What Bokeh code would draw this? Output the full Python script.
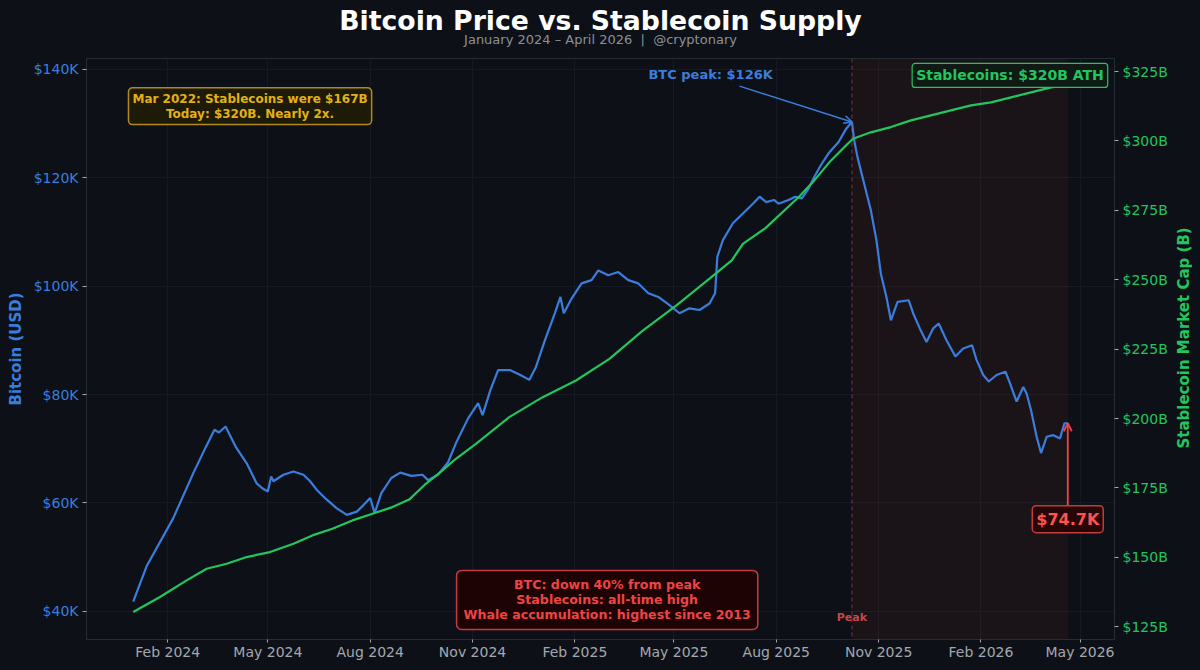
import math
import pandas as pd
from bokeh.plotting import figure
from bokeh.layouts import column, row
from bokeh.core.properties import value
from bokeh.models import (Range1d, LinearAxis, FixedTicker, DatetimeTickFormatter,
                          PrintfTickFormatter, Label, Arrow, OpenHead, BoxAnnotation, Span)
from bokeh.embed import file_html
from bokeh.resources import INLINE

# ---------------- data ----------------
btc_dates = [
    "2024-01-01", "2024-01-13", "2024-02-06", "2024-02-24", "2024-03-06", "2024-03-14",
    "2024-03-18", "2024-03-24", "2024-04-02", "2024-04-12", "2024-04-21", "2024-04-26",
    "2024-05-01", "2024-05-04", "2024-05-06", "2024-05-15", "2024-05-24", "2024-06-02",
    "2024-06-08", "2024-06-14", "2024-06-23", "2024-07-02", "2024-07-11", "2024-07-20",
    "2024-07-26", "2024-08-01", "2024-08-05", "2024-08-11", "2024-08-20", "2024-08-28",
    "2024-09-07", "2024-09-17", "2024-09-22", "2024-10-01", "2024-10-10", "2024-10-17",
    "2024-10-28", "2024-11-06", "2024-11-10", "2024-11-17", "2024-11-24", "2024-12-05",
    "2024-12-14", "2024-12-22", "2024-12-28", "2025-01-05", "2025-01-14", "2025-01-19",
    "2025-01-22", "2025-01-29", "2025-02-07", "2025-02-16", "2025-02-22", "2025-03-03",
    "2025-03-12", "2025-03-21", "2025-03-30", "2025-04-08", "2025-04-17", "2025-04-27",
    "2025-05-06", "2025-05-15", "2025-05-24", "2025-06-02", "2025-06-07", "2025-06-09",
    "2025-06-14", "2025-06-23", "2025-07-02", "2025-07-11", "2025-07-17", "2025-07-23",
    "2025-07-30", "2025-08-03", "2025-08-12", "2025-08-18", "2025-08-24", "2025-08-30",
    "2025-09-04", "2025-09-10", "2025-09-17", "2025-09-26", "2025-10-03", "2025-10-08",
    "2025-10-10", "2025-10-13", "2025-10-19", "2025-10-25", "2025-10-30", "2025-11-03",
    "2025-11-08", "2025-11-12", "2025-11-18", "2025-11-28", "2025-12-02", "2025-12-08",
    "2025-12-14", "2025-12-20", "2025-12-25", "2026-01-01", "2026-01-09", "2026-01-16",
    "2026-01-24", "2026-01-28", "2026-02-03", "2026-02-08", "2026-02-15", "2026-02-23",
    "2026-02-27", "2026-03-05", "2026-03-11", "2026-03-14", "2026-03-18", "2026-03-23",
    "2026-03-27", "2026-04-01", "2026-04-07", "2026-04-13", "2026-04-17", "2026-04-20",
]
btc_values = [  # thousands of USD
    41.8, 48.3, 57.2, 65.5, 70.2, 73.5,
    73.0, 74.1, 70.4, 67.3, 63.6, 62.7,
    62.1, 64.9, 64.0, 65.2, 65.8, 65.2,
    64.0, 62.4, 60.6, 59.0, 57.8, 58.4,
    59.6, 60.9, 58.1, 61.8, 64.6, 65.6,
    65.0, 65.2, 64.2, 65.2, 67.5, 71.0,
    75.6, 78.4, 76.2, 80.8, 84.5, 84.5,
    83.6, 82.7, 85.1, 90.0, 95.0, 98.0,
    95.0, 97.7, 100.5, 101.1, 102.9, 102.0,
    102.6, 101.1, 100.5, 98.7, 98.0, 96.5,
    95.0, 95.9, 95.6, 96.8, 98.7, 105.4,
    108.5, 111.6, 113.4, 115.2, 116.5, 115.5,
    115.9, 115.2, 115.9, 116.5, 116.2, 118.0,
    120.1, 122.3, 124.5, 126.6, 129.1, 130.3,
    126.9, 123.8, 118.9, 114.0, 108.5, 102.3,
    98.0, 93.7, 97.1, 97.4, 95.0, 92.2,
    89.7, 92.2, 93.1, 90.0, 87.0, 88.5,
    89.1, 86.4, 83.6, 82.4, 83.6, 84.2,
    82.1, 78.7, 81.4, 80.2, 77.1, 72.2,
    69.2, 72.2, 72.5, 71.9, 74.7, 74.7,
]

stable_dates = [
    "2024-01-01", "2024-01-25", "2024-02-18", "2024-03-07", "2024-03-25", "2024-04-12",
    "2024-05-03", "2024-05-24", "2024-06-10", "2024-06-28", "2024-07-16", "2024-08-03",
    "2024-08-21", "2024-09-05", "2024-09-20", "2024-10-05", "2024-10-17", "2024-11-04",
    "2024-12-04", "2025-01-03", "2025-02-02", "2025-03-04", "2025-04-03", "2025-05-03",
    "2025-06-02", "2025-06-22", "2025-07-02", "2025-07-22", "2025-08-21", "2025-09-04",
    "2025-09-19", "2025-10-04", "2025-10-09", "2025-10-25", "2025-11-12", "2025-11-30",
    "2025-12-18", "2026-01-05", "2026-01-23", "2026-02-10", "2026-02-28", "2026-03-18",
    "2026-04-05", "2026-04-20",
]
stable_values = [  # billions of USD
    130.3, 135.7, 141.7, 145.9, 147.7, 150.1,
    151.9, 154.9, 157.9, 160.3, 163.3, 165.7,
    168.1, 170.8, 176.5, 181.3, 185.5, 190.9,
    200.5, 207.7, 213.7, 221.5, 231.7, 240.7,
    250.4, 257.0, 262.9, 268.5, 279.7, 285.7,
    292.9, 298.9, 300.8, 303.1, 305.0, 307.4,
    309.2, 311.0, 312.8, 313.9, 315.7, 317.5,
    319.3, 320.0,
]

x_tick_dates = ["2024-02-01", "2024-05-01", "2024-08-01", "2024-11-01", "2025-02-01",
                "2025-05-01", "2025-08-01", "2025-11-01", "2026-02-01", "2026-05-01"]
btc_ticks = [40, 60, 80, 100, 120, 140]
stable_ticks = [125, 150, 175, 200, 225, 250, 275, 300, 325]
btc_axis_range = (34.8, 142.0)
stable_axis_range = (120.4, 329.7)
peak_date = "2025-10-08"

title_text = "Bitcoin Price vs. Stablecoin Supply"
subtitle_text = "January 2024 \u2013 April 2026 \u00a0|\u00a0 @cryptonary"
right_axis_title = "Stablecoin Market Cap (B)"

# ---------------- helpers ----------------
def ms(d):
    return pd.Timestamp(d).value / 1e6

btc_x = [ms(d) for d in btc_dates]
stable_x = [ms(d) for d in stable_dates]
x_min, x_max = min(btc_x), max(btc_x)
pad = 0.05 * (x_max - x_min)
x_lo, x_hi = x_min - pad, x_max + pad

BG = "#0d1117"
BLUE = "#3b7ddd"
GREEN = "#22c55e"
RED = "#ef4444"
YELLOW = "#e3b114"
GRID = "#161b23"
TICK = "#a3a8ae"
FONT = "DejaVu Sans"

W, H = 1192, 662
TOP_H = 58          # title strip height
RLAB_W = 22         # strip for right axis title
MAIN_W, MAIN_H = W - RLAB_W, H - TOP_H
LEFT_B, RIGHT_B, BOTTOM_B = 86, 56, 23


def blank(width, height, xr, yr):
    f = figure(width=width, height=height, x_range=xr, y_range=yr,
               output_backend="svg", toolbar_location=None, min_border=0,
               x_axis_location=None, y_axis_location=None,
               background_fill_color=BG, border_fill_color=BG)
    f.outline_line_color = None
    f.grid.visible = False
    return f


# ---- title strip ----
top = blank(W, TOP_H, Range1d(0, W), Range1d(TOP_H, 0))
cx = LEFT_B + (MAIN_W - LEFT_B - RIGHT_B) / 2
top.text(x=[cx], y=[20], text=[title_text], text_align="center",
         text_baseline="alphabetic", text_font=value(FONT), text_font_size="26.7px",
         text_font_style="bold", text_color="#ffffff")
top.text(x=[cx], y=[39], text=[subtitle_text], text_align="center",
         text_baseline="alphabetic", text_font=value(FONT), text_font_size="13px",
         text_color="#8b9096")

# ---- main plot ----
p = figure(width=MAIN_W, height=MAIN_H, x_axis_type="datetime", title=None,
           output_backend="svg", toolbar_location=None,
           x_range=Range1d(x_lo, x_hi),
           y_range=Range1d(*btc_axis_range),
           background_fill_color=BG, border_fill_color=BG,
           min_border_left=LEFT_B, min_border_right=RIGHT_B, min_border_top=0,
           min_border_bottom=BOTTOM_B)
p.outline_line_color = "#262c35"
p.extra_y_ranges = {"stable": Range1d(*stable_axis_range)}

# shaded post-peak region and peak line
p.add_layout(BoxAnnotation(left=ms(peak_date), right=x_max, fill_color=RED, fill_alpha=0.06,
                           line_alpha=0, level="underlay"))
p.add_layout(Span(location=ms(peak_date), dimension="height", line_color="#d04848",
                  line_alpha=0.6, line_dash="4 3", line_width=1))

# lines
p.line(btc_x, btc_values, line_color=BLUE, line_width=2.2)
p.line(stable_x, stable_values, y_range_name="stable", line_color=GREEN, line_width=2.2)

# axes
xax = p.xaxis[0]
xax.ticker = FixedTicker(ticks=[ms(d) for d in x_tick_dates])
fmt = "%b %Y"
xax.formatter = DatetimeTickFormatter(microseconds=fmt, milliseconds=fmt, seconds=fmt,
                                      minsec=fmt, minutes=fmt, hourmin=fmt, hours=fmt,
                                      days=fmt, months=fmt, years=fmt)
yax = p.yaxis[0]
yax.ticker = FixedTicker(ticks=btc_ticks)
yax.formatter = PrintfTickFormatter(format="$%dK")
yax.axis_label = "Bitcoin (USD)"
yax.axis_label_text_color = BLUE
yax.major_label_text_color = BLUE

rax = LinearAxis(y_range_name="stable", ticker=FixedTicker(ticks=stable_ticks),
                 formatter=PrintfTickFormatter(format="$%dB"))
rax.major_label_text_color = GREEN
p.add_layout(rax, "right")

for ax in (xax, yax, rax):
    ax.axis_line_color = "#262c35"
    ax.major_tick_line_color = TICK
    ax.major_tick_out = 4
    ax.major_tick_in = 0
    ax.minor_tick_line_color = None
    ax.major_label_text_font = FONT
    ax.major_label_text_font_size = "14px"
    ax.major_label_standoff = 4
    ax.axis_label_text_font = FONT
    ax.axis_label_text_font_size = "15px"
    ax.axis_label_text_font_style = "bold"
yax.axis_label_standoff = 6
xax.major_label_text_color = TICK
xax.major_tick_out = 3
xax.major_label_standoff = 1

p.xgrid.grid_line_color = GRID
p.ygrid.grid_line_color = GRID

# annotations
p.add_layout(Label(x=ms("2024-04-15"), y=133.2,
                   text="Mar 2022: Stablecoins were $167B\nToday: $320B. Nearly 2x.",
                   text_align="center", text_baseline="middle", text_font=FONT,
                   text_font_size="12px", text_font_style="bold", text_color=YELLOW,
                   text_line_height=1.05,
                   background_fill_color="#1d1a07", background_fill_alpha=1.0,
                   border_line_color="#b08a18", border_line_width=1.5,
                   padding=4, border_radius=4))

peak_i = btc_values.index(max(btc_values))
p.add_layout(Label(x=ms("2025-06-03"), y=139.1, text="BTC peak: $126K",
                   text_align="center", text_baseline="middle", text_font=FONT,
                   text_font_size="13px", text_font_style="bold", text_color=BLUE))
p.add_layout(Arrow(x_start=ms("2025-06-29"), y_start=136.9,
                   x_end=btc_x[peak_i], y_end=btc_values[peak_i],
                   line_color=BLUE, line_width=1.5,
                   end=OpenHead(size=8, line_color=BLUE, line_width=1.5)))

p.add_layout(Label(x=ms("2026-02-27"), y=323.6, y_range_name="stable",
                   text="Stablecoins: $320B ATH",
                   text_align="center", text_baseline="middle", text_font=FONT,
                   text_font_size="14px", text_font_style="bold", text_color=GREEN,
                   background_fill_color="#0f1a14", background_fill_alpha=1.0,
                   border_line_color=GREEN, border_line_width=1.2,
                   padding=4, border_radius=3))

p.add_layout(Label(x=ms("2025-03-02"), y=42.1,
                   text="BTC: down 40% from peak\nStablecoins: all-time high\nWhale accumulation: highest since 2013",
                   text_align="center", text_baseline="middle", text_font=FONT,
                   text_font_size="12.6px", text_font_style="bold", text_color=RED,
                   text_line_height=1.0,
                   background_fill_color="#1e0304", background_fill_alpha=1.0,
                   border_line_color="#c43b3b", border_line_width=1.5,
                   padding=7, border_radius=5))

p.add_layout(Label(x=ms(peak_date), y=38.8, text="Peak",
                   text_align="center", text_baseline="middle", text_font=FONT,
                   text_font_size="11px", text_font_style="bold", text_color="#c44848"))

p.add_layout(Arrow(x_start=btc_x[-1], y_start=59.3, x_end=btc_x[-1], y_end=btc_values[-1],
                   line_color=RED, line_width=1.8,
                   end=OpenHead(size=8, line_color=RED, line_width=1.8)))
p.add_layout(Label(x=btc_x[-1], y=57.0, text="$74.7K",
                   text_align="center", text_baseline="middle", text_font=FONT,
                   text_font_size="16px", text_font_style="bold", text_color="#ff5252",
                   background_fill_color="#260606", background_fill_alpha=1.0,
                   border_line_color="#c43b3b", border_line_width=1.5,
                   padding=4, border_radius=4))

# ---- right axis title strip ----
rlab = blank(RLAB_W, MAIN_H, Range1d(0, RLAB_W), Range1d(MAIN_H, 0))
frame_mid = (MAIN_H - BOTTOM_B) / 2
rlab.text(x=[13], y=[frame_mid], text=[right_axis_title], angle=math.pi / 2,
          text_align="center", text_baseline="middle", text_font=value(FONT),
          text_font_size="15px", text_font_style="bold", text_color=GREEN)

layout = column(top, row(p, rlab, spacing=0), spacing=0)
html = file_html(layout, INLINE)
html = html.replace("</head>",
                    "<style>html, body { background-color: %s; overflow: hidden; }</style></head>" % BG, 1)
open("out.html", "w").write(html)
